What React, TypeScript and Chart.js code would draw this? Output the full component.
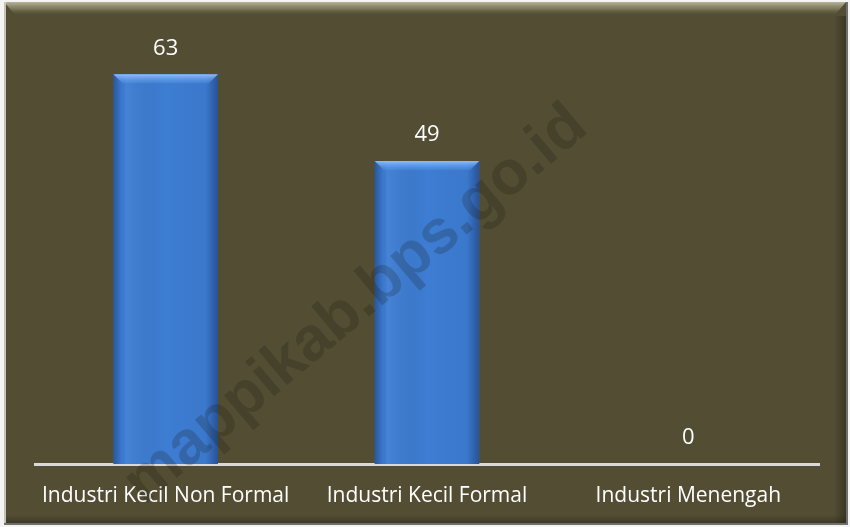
import React, { useEffect, useRef } from "react";
import { Chart, registerables } from "chart.js";

Chart.register(...registerables);

const categories = ["Industri Kecil Non Formal", "Industri Kecil Formal", "Industri Menengah"];
const values = [63, 49, 0];
const watermark = "mappikab.bps.go.id";

const FONT = "'Open Sans', sans-serif";

const framePlugin = {
  id: "frame",
  beforeDraw(chart: any) {
    const { ctx, width, height } = chart;
    ctx.save();
    ctx.fillStyle = "#f4f4f2";
    ctx.fillRect(0, 0, width, height);
    const x0 = 4, y0 = 2, x1 = 846, y1 = 523;
    ctx.fillStyle = "#524d33";
    ctx.fillRect(x0, y0, x1 - x0, y1 - y0);
    const g = ctx.createLinearGradient(0, y0, 0, y0 + 14);
    g.addColorStop(0, "rgba(200,198,170,0.85)");
    g.addColorStop(0.5, "rgba(150,147,115,0.6)");
    g.addColorStop(1, "rgba(82,77,51,0)");
    ctx.fillStyle = g;
    ctx.beginPath();
    ctx.moveTo(x0, y0);
    ctx.lineTo(x1, y0);
    ctx.lineTo(x1 - 12, y0 + 14);
    ctx.lineTo(x0 + 12, y0 + 14);
    ctx.closePath();
    ctx.fill();
    const gr = ctx.createLinearGradient(x1 - 12, 0, x1, 0);
    gr.addColorStop(0, "rgba(40,38,25,0)");
    gr.addColorStop(1, "rgba(40,38,25,0.6)");
    ctx.fillStyle = gr;
    ctx.fillRect(x1 - 12, y0 + 14, 12, y1 - y0 - 14);
    const gb = ctx.createLinearGradient(0, y1 - 8, 0, y1);
    gb.addColorStop(0, "rgba(40,38,25,0)");
    gb.addColorStop(1, "rgba(40,38,25,0.5)");
    ctx.fillStyle = gb;
    ctx.fillRect(x0, y1 - 8, x1 - x0, 8);
    ctx.fillStyle = "rgba(210,210,200,0.9)";
    ctx.fillRect(x0, y0, 2, y1 - y0);
    ctx.fillStyle = "#6f6f6f";
    ctx.fillRect(x1, y0, 2, y1 - y0 + 2);
    ctx.fillRect(x0, y1, x1 - x0 + 2, 2);
    ctx.restore();
  },
};

const barStylePlugin = {
  id: "barStyle",
  afterDatasetsDraw(chart: any) {
    const { ctx } = chart;
    const meta = chart.getDatasetMeta(0);
    ctx.save();
    meta.data.forEach((bar: any) => {
      const left = bar.x - bar.width / 2;
      const right = bar.x + bar.width / 2;
      const top = bar.y;
      const bottom = bar.base;
      const h = bottom - top;
      if (h < 1) return;
      const w = right - left;
      const gs = ctx.createLinearGradient(left, 0, right, 0);
      gs.addColorStop(0, "rgba(20,40,90,0.45)");
      gs.addColorStop(0.08, "rgba(20,40,90,0.05)");
      gs.addColorStop(0.12, "rgba(120,170,240,0.15)");
      gs.addColorStop(0.5, "rgba(0,0,0,0)");
      gs.addColorStop(0.88, "rgba(20,40,90,0.05)");
      gs.addColorStop(1, "rgba(20,40,90,0.5)");
      ctx.fillStyle = gs;
      ctx.fillRect(left, top, w, h);
      const bev = 9;
      const gt = ctx.createLinearGradient(0, top, 0, top + bev);
      gt.addColorStop(0, "rgba(150,200,255,0.9)");
      gt.addColorStop(1, "rgba(90,150,230,0.3)");
      ctx.fillStyle = gt;
      ctx.beginPath();
      ctx.moveTo(left, top);
      ctx.lineTo(right, top);
      ctx.lineTo(right - bev, top + bev);
      ctx.lineTo(left + bev, top + bev);
      ctx.closePath();
      ctx.fill();
    });
    ctx.restore();
  },
};

const labelPlugin = {
  id: "valueLabels",
  afterDatasetsDraw(chart: any) {
    const { ctx } = chart;
    const meta = chart.getDatasetMeta(0);
    ctx.save();
    ctx.fillStyle = "#ffffff";
    ctx.font = `22px ${FONT}`;
    ctx.textAlign = "center";
    ctx.textBaseline = "middle";
    meta.data.forEach((bar: any, i: number) => {
      ctx.fillText(String(values[i]), bar.x, bar.y - 26);
    });
    ctx.restore();
  },
};

const watermarkPlugin = {
  id: "watermark",
  afterDraw(chart: any) {
    const { ctx } = chart;
    ctx.save();
    ctx.translate(356, 305);
    ctx.rotate(-40 * Math.PI / 180);
    ctx.fillStyle = "rgba(20,18,8,0.2)";
    ctx.font = `bold 62px 'Liberation Sans', Arial, sans-serif`;
    ctx.textAlign = "center";
    ctx.textBaseline = "middle";
    ctx.fillText(watermark, 0, 0);
    ctx.restore();
  },
};

export default function App() {
  const ref = useRef<HTMLCanvasElement | null>(null);
  useEffect(() => {
    if (!ref.current) return;
    const chart = new Chart(ref.current, {
      type: "bar",
      data: {
        labels: categories,
        datasets: [
          {
            data: values,
            backgroundColor: "#3d7dd3",
            borderWidth: 0,
            categoryPercentage: 1,
            barPercentage: 0.4,
          },
        ],
      },
      options: {
        animation: false,
        responsive: false,
        events: [],
        layout: { padding: { left: 35, right: 31, top: 31, bottom: 0 } },
        plugins: { legend: { display: false }, tooltip: { enabled: false } },
        scales: {
          x: {
            grid: { display: false, drawTicks: false },
            border: { display: true, color: "#d9d9d9", width: 3 },
            ticks: {
              color: "#ffffff",
              font: { family: FONT, size: 21 },
              padding: 19,
              maxRotation: 0,
            },
            afterFit: (s: any) => {
              s.height = 63;
            },
          },
          y: {
            display: false,
            min: 0,
            max: 70,
          },
        },
      },
      plugins: [framePlugin, barStylePlugin, labelPlugin, watermarkPlugin],
    });
    return () => chart.destroy();
  }, []);
  return (
    <div style={{ position: "absolute", left: 0, top: 0, width: 850, height: 527 }}>
      <canvas ref={ref} width={850} height={527} style={{ display: "block" }} />
    </div>
  );
}
